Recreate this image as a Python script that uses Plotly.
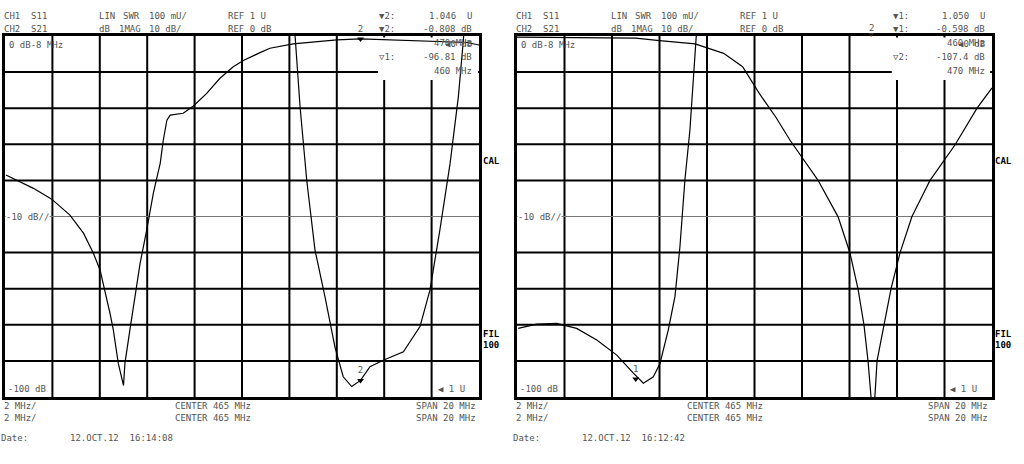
import plotly.graph_objects as go

# ---------------- data ----------------
# left screen: CH2 S21 in dB, CH1 S11 as SWR
left_s21_freq = [455.04, 455.63, 456.2, 456.97, 457.74, 458.31, 458.73, 459.01, 459.22,
                 459.43, 459.57, 459.78, 460.0, 460.06, 460.27, 460.49, 460.70, 460.98,
                 461.26, 461.55, 461.68, 461.83, 461.97, 462.52, 462.95, 463.51, 464.07,
                 464.63, 465.06, 465.76, 466.18, 467.16, 469.0, 470.0, 472.6, 474.5, 475.0]
left_s21_db = [-38.5, -40.4, -42.2, -45.2, -49.6, -54.6, -60.2, -64.8, -70.4,
               -76.8, -81.4, -90.7, -96.8, -90.7, -81.4, -72.2, -63.0, -53.7,
               -43.5, -35.2, -28.8, -23.3, -21.9, -21.4, -19.4, -15.9, -11.7,
               -8.5, -6.8, -4.6, -3.4, -2.2, -1.1, -0.81, -1.3, -1.8, -2.5]

left_swr_freq = [467.1, 467.24, 467.45, 467.73, 468.08, 468.5, 468.92, 469.27, 469.63,
                 470.0, 470.4, 470.96, 471.81, 472.51, 472.93, 473.35, 473.78, 474.13,
                 474.34, 474.45]
left_swr = [2.2, 2.0, 1.804, 1.601, 1.407, 1.278, 1.139, 1.056, 1.029,
            1.046, 1.084, 1.102, 1.125, 1.195, 1.296, 1.463, 1.647, 1.832,
            1.989, 2.1]

# right screen
right_s21_freq = [455.0, 457.0, 460.0, 461.0, 462.5, 463.7, 464.5, 465.2, 465.9, 466.49,
                  467.1, 467.67, 468.52, 469.02, 469.36, 469.61, 469.78, 470.0,
                  470.16, 470.45, 470.75, 471.13, 471.63, 472.39, 473.44, 474.37, 475.0]
right_s21_db = [-0.3, -0.4, -0.6, -1.3, -2.2, -4.8, -8.5, -15.9, -22.5, -28.8,
                -34.5, -39.9, -50.1, -60.1, -70.1, -80.1, -90.0, -107.4,
                -90.0, -80.0, -70.0, -60.0, -50.0, -40.0, -30.2, -20.0, -14.4]

right_swr_freq = [455.05, 455.83, 456.67, 457.51, 458.36, 459.2, 459.9, 460.32, 460.74,
                  461.02, 461.37, 461.65, 461.86, 462.07, 462.28, 462.5, 462.59, 462.65]
right_swr = [1.19, 1.202, 1.204, 1.19, 1.158, 1.116, 1.066, 1.038, 1.056,
             1.093, 1.186, 1.278, 1.416, 1.601, 1.739, 1.923, 2.0, 2.1]

# marker readouts
left_mk2_freq, left_mk2_swr, left_mk2_db = 470.0, 1.046, -0.808
right_mk1_freq, right_mk1_swr, right_mk1_db = 460.0, 1.050, -0.598

W, H = 1024, 464
GREY = "#555555"
MONO = "DejaVu Sans Mono"


def px(x, y):
    return x / W, 1 - y / H


fig = go.Figure()

line = dict(color="black", width=1.2)
fig.add_trace(go.Scatter(x=left_s21_freq, y=left_s21_db, mode="lines", line=line,
                         xaxis="x", yaxis="y", showlegend=False))
fig.add_trace(go.Scatter(x=left_swr_freq, y=left_swr, mode="lines", line=line,
                         xaxis="x", yaxis="y2", showlegend=False))
fig.add_trace(go.Scatter(x=right_s21_freq, y=right_s21_db, mode="lines", line=line,
                         xaxis="x2", yaxis="y3", showlegend=False))
fig.add_trace(go.Scatter(x=right_swr_freq, y=right_swr, mode="lines", line=line,
                         xaxis="x2", yaxis="y4", showlegend=False))

# marker symbols
mk = dict(symbol="triangle-down", size=6, color="black")
tf = dict(family=MONO, size=9, color=GREY)
fig.add_trace(go.Scatter(x=[left_mk2_freq], y=[left_mk2_swr], mode="markers+text", text=["2"],
                         textposition="top center", textfont=tf, marker=mk, cliponaxis=False,
                         xaxis="x", yaxis="y2", showlegend=False))
fig.add_trace(go.Scatter(x=[left_mk2_freq], y=[left_mk2_db], mode="markers+text", text=["2"],
                         textposition="top center", textfont=tf, marker=mk, cliponaxis=False,
                         xaxis="x", yaxis="y", showlegend=False))
fig.add_trace(go.Scatter(x=[right_mk1_freq], y=[right_mk1_swr], mode="markers+text", text=["1"],
                         textposition="top center", textfont=tf, marker=mk, cliponaxis=False,
                         xaxis="x2", yaxis="y4", showlegend=False))

# ---------------- axes ----------------
ydom = [1 - 397 / H, 1 - 36 / H]
xa = dict(range=[455, 475], showticklabels=False, ticks="", showgrid=False, zeroline=False,
          showline=True, linecolor="black", linewidth=2.5, mirror=True, fixedrange=True)
ya = dict(range=[-100, 0], showticklabels=False, ticks="", showgrid=False, zeroline=False,
          showline=True, linecolor="black", linewidth=2.5, mirror=True,
          domain=ydom, fixedrange=True)
ya_swr = dict(range=[1, 2], showticklabels=False, ticks="", showgrid=False,
              zeroline=False, showline=False, fixedrange=True)

fig.update_layout(
    xaxis=dict(xa, domain=[5 / W, 479 / W], anchor="y"),
    yaxis=dict(ya, anchor="x"),
    yaxis2=dict(ya_swr, overlaying="y", anchor="x"),
    xaxis2=dict(xa, domain=[517 / W, 992 / W], anchor="y3"),
    yaxis3=dict(ya, anchor="x2"),
    yaxis4=dict(ya_swr, overlaying="y3", anchor="x2"),
    width=W, height=H,
    margin=dict(l=0, r=0, t=0, b=0),
    plot_bgcolor="white", paper_bgcolor="white",
)

# graticule (10 x 10 divisions), blanked readout box, thin grey centre line
grid = dict(color="black", width=2)
for xr, yr, (bx0, bx1) in (("x", "y", (0.787, 0.998)), ("x2", "y3", (0.789, 0.996))):
    for f in range(457, 475, 2):
        fig.add_shape(type="line", xref=xr, yref=yr + " domain", x0=f, x1=f, y0=0, y1=1,
                      line=grid, layer="below")
    for d in range(-90, 0, 10):
        if d == -50:
            continue
        fig.add_shape(type="line", xref=xr + " domain", yref=yr, x0=0, x1=1, y0=d, y1=d,
                      line=grid, layer="below")
    fig.add_shape(type="rect", xref=xr + " domain", yref=yr + " domain",
                  x0=bx0, x1=bx1, y0=0.878, y1=0.996,
                  fillcolor="white", line_width=0, layer="below")
    fig.add_shape(type="line", xref=xr + " domain", yref=yr, x0=0, x1=1, y0=-50, y1=-50,
                  line=dict(color="#777777", width=1), layer="below")


# ---------------- texts ----------------
def label(x, y, text, anchor="left", size=9, color=GREY, bg=None, family=MONO):
    ax, ay = px(x, y)
    fig.add_annotation(x=ax, y=ay, xref="paper", yref="paper", text=text, showarrow=False,
                       xanchor=anchor, yanchor="middle", font=dict(family=family, size=size, color=color),
                       bgcolor=bg, borderpad=0)


screens = [
    dict(off=0, mk_a="▼2:", v1="1.046  U", v2="-0.808 dB", f1="470 MHz", mk_b="▽1:",
         v3="-96.81 dB", f2="460 MHz", date="12.OCT.12  16:14:08"),
    dict(off=512, mk_a="▼1:", v1="1.050  U", v2="-0.598 dB", f1="460 MHz", mk_b="▽2:",
         v3="-107.4 dB", f2="470 MHz", date="12.OCT.12  16:12:42"),
]
for s in screens:
    o = s["off"]
    label(3 + o, 16, "CH1  S11")
    label(3 + o, 29, "CH2  S21")
    label(98 + o, 16, "LIN")
    label(122 + o, 16, "SWR")
    label(148 + o, 16, "100 mU/")
    label(98 + o, 29, "dB")
    label(118 + o, 29, "1MAG")
    label(148 + o, 29, "10 dB/")
    label(227 + o, 16, "REF 1 U")
    label(227 + o, 29, "REF 0 dB")
    rx = 378 + o + (2 if o else 0)
    right = 473 + o + (1 if o else 0)
    label(rx, 16, s["mk_a"])
    label(right, 16, s["v1"], anchor="right")
    label(rx, 29, s["mk_a"])
    label(right, 29, s["v2"], anchor="right")
    label(right, 43, s["f1"], anchor="right")
    label(right, 44, "◀0 dB", anchor="right")
    label(rx, 57, s["mk_b"])
    label(right, 57, s["v3"], anchor="right")
    label(right, 71, s["f2"], anchor="right")
    label(8 + o, 45, "0 dB-8 MHz")
    label(5 + o, 217, "-10 dB/∕", bg="white")
    label(7 + o, 389, "-100 dB", bg="white")
    label(437 + o, 389, "◀ 1 U")
    label(482 + o, 161, "<b>CAL</b>", color="black", size=9)
    label(482 + o, 334, "<b>FIL</b>", color="black", size=9)
    label(482 + o, 345, "<b>100</b>", color="black", size=9)
    label(3 + o, 406, "2 MHz/")
    label(3 + o, 418, "2 MHz/")
    label(174 + o, 406, "CENTER 465 MHz")
    label(174 + o, 418, "CENTER 465 MHz")
    label(477 + o, 406, "SPAN 20 MHz", anchor="right")
    label(477 + o, 418, "SPAN 20 MHz", anchor="right")
    label(0 + o, 438, "Date:")
    label(69 + o, 438, s["date"])

# off-screen SWR marker 2 on the right screen
label(871, 28, "2", anchor="center")
label(871, 35, "▽", anchor="center", size=7)

fig.write_html("out.html", config={"displayModeBar": False},
               post_script="document.body.style.margin='0px';")
